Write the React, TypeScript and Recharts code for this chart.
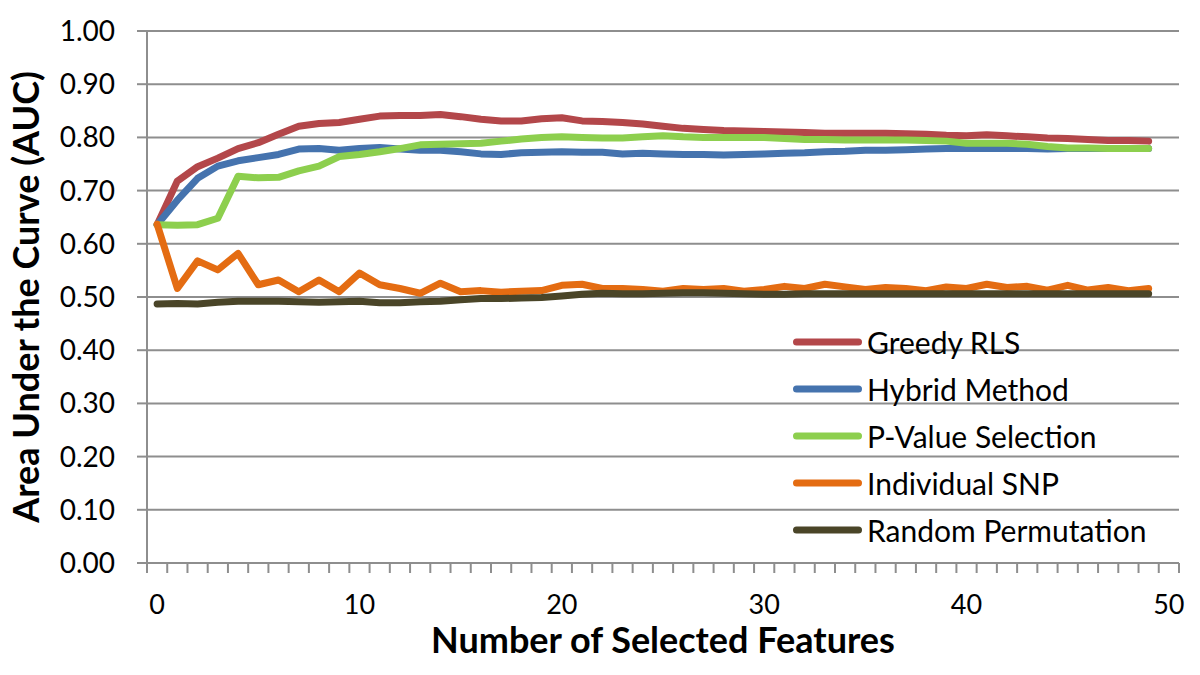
import { LineChart, Line, XAxis, YAxis, CartesianGrid, Legend, Label } from 'recharts';

// x categories (number of selected features)
const features = [
  0, 1, 2, 3, 4, 5, 6, 7, 8, 9,
  10, 11, 12, 13, 14, 15, 16, 17, 18, 19,
  20, 21, 22, 23, 24, 25, 26, 27, 28, 29,
  30, 31, 32, 33, 34, 35, 36, 37, 38, 39,
  40, 41, 42, 43, 44, 45, 46, 47, 48, 49,
];

const greedyRLS = [
  0.636, 0.718, 0.745, 0.761, 0.779, 0.790, 0.806, 0.821, 0.826, 0.828,
  0.834, 0.840, 0.841, 0.841, 0.843, 0.839, 0.834, 0.831, 0.831, 0.835,
  0.837, 0.831, 0.830, 0.828, 0.825, 0.821, 0.817, 0.815, 0.813, 0.812,
  0.811, 0.810, 0.809, 0.808, 0.808, 0.808, 0.808, 0.807, 0.806, 0.804,
  0.803, 0.805, 0.803, 0.801, 0.799, 0.798, 0.796, 0.794, 0.794, 0.793,
];

const hybridMethod = [
  0.636, 0.682, 0.723, 0.746, 0.756, 0.762, 0.768, 0.778, 0.779, 0.776,
  0.779, 0.781, 0.778, 0.776, 0.776, 0.773, 0.769, 0.768, 0.771, 0.772,
  0.773, 0.772, 0.772, 0.769, 0.770, 0.769, 0.768, 0.768, 0.767, 0.768,
  0.769, 0.770, 0.771, 0.773, 0.774, 0.776, 0.776, 0.777, 0.778, 0.779,
  0.779, 0.779, 0.779, 0.779, 0.778, 0.779, 0.779, 0.779, 0.779, 0.779,
];

const pValueSelection = [
  0.636, 0.635, 0.636, 0.648, 0.727, 0.724, 0.725, 0.737, 0.746, 0.764,
  0.768, 0.773, 0.779, 0.786, 0.787, 0.788, 0.789, 0.793, 0.797, 0.800,
  0.801, 0.800, 0.799, 0.799, 0.801, 0.803, 0.801, 0.800, 0.800, 0.800,
  0.800, 0.798, 0.796, 0.796, 0.795, 0.795, 0.795, 0.795, 0.794, 0.793,
  0.789, 0.789, 0.789, 0.787, 0.783, 0.780, 0.780, 0.779, 0.779, 0.779,
];

const individualSNP = [
  0.637, 0.516, 0.568, 0.551, 0.582, 0.523, 0.532, 0.510, 0.532, 0.510,
  0.545, 0.523, 0.516, 0.507, 0.526, 0.510, 0.512, 0.509, 0.511, 0.512,
  0.522, 0.524, 0.516, 0.516, 0.514, 0.511, 0.516, 0.514, 0.516, 0.511,
  0.514, 0.520, 0.516, 0.524, 0.519, 0.514, 0.518, 0.516, 0.512, 0.519,
  0.516, 0.524, 0.518, 0.520, 0.513, 0.522, 0.513, 0.518, 0.512, 0.516,
];

const randomPermutation = [
  0.487, 0.488, 0.487, 0.490, 0.492, 0.492, 0.492, 0.491, 0.490, 0.491,
  0.492, 0.489, 0.489, 0.491, 0.492, 0.495, 0.497, 0.497, 0.498, 0.499,
  0.502, 0.505, 0.507, 0.506, 0.506, 0.507, 0.508, 0.508, 0.507, 0.506,
  0.505, 0.505, 0.506, 0.506, 0.506, 0.506, 0.506, 0.506, 0.506, 0.506,
  0.506, 0.506, 0.506, 0.506, 0.506, 0.506, 0.506, 0.506, 0.506, 0.506,
];

const xLabels = [0, 10, 20, 30, 40, 50];
const yTicks = [0, 0.1, 0.2, 0.3, 0.4, 0.5, 0.6, 0.7, 0.8, 0.9, 1.0];

const series = [
  { key: 'greedy', name: 'Greedy RLS', color: '#B3474A' },
  { key: 'hybrid', name: 'Hybrid Method', color: '#4573AE' },
  { key: 'pvalue', name: 'P-Value Selection', color: '#8DCF4E' },
  { key: 'snp', name: 'Individual SNP', color: '#E46C12' },
  { key: 'random', name: 'Random Permutation', color: '#4A4528' },
];

const data = features.map((x, i) => ({
  x,
  greedy: greedyRLS[i],
  hybrid: hybridMethod[i],
  pvalue: pValueSelection[i],
  snp: individualSNP[i],
  random: randomPermutation[i],
}));

// Excel-style category axis: tick marks sit between categories, labels at centres
const boundaryTicks = [...features, 50].map((v) => v - 0.5).concat([50.5]);
const xTicks = [...boundaryTicks, ...xLabels].sort((a, b) => a - b);

const FONT = 'Lato, "Open Sans", sans-serif';
const AXIS = '#8E8E8E';

const XTick = (props: any) => {
  const { x, y, payload } = props;
  const v = payload.value;
  if (Number.isInteger(v)) {
    return (
      <text x={x} y={y + 41} textAnchor="middle" fontSize={27} fontFamily={FONT} fill="#000">
        {v}
      </text>
    );
  }
  return <line x1={x} x2={x} y1={y - 10} y2={y} stroke={AXIS} strokeWidth={2} />;
};

const LegendBox = () => (
  <div style={{ fontFamily: FONT, fontSize: 30, color: '#000' }}>
    {series.map((s) => (
      <div key={s.key} style={{ display: 'flex', alignItems: 'center', height: 47 }}>
        <svg width={75} height={14} style={{ display: 'block' }}>
          <line x1={6.5} x2={68.5} y1={7} y2={7} stroke={s.color} strokeWidth={7} strokeLinecap="round" />
        </svg>
        <span style={{ marginLeft: 2, whiteSpace: 'nowrap' }}>{s.name}</span>
      </div>
    ))}
  </div>
);

export default function App() {
  return (
    <div style={{ position: 'absolute', left: 0, top: 0, width: 1200, height: 675, background: '#fff' }}>
      <LineChart width={1200} height={675} data={data} margin={{ top: 31, right: 21, left: 0, bottom: 0 }}>
        <CartesianGrid horizontal vertical={false} stroke={AXIS} strokeWidth={2} />
        <XAxis
          dataKey="x"
          type="number"
          domain={[-0.5, 50.5]}
          ticks={xTicks}
          interval={0}
          height={112}
          tickSize={10}
          tickMargin={0}
          tickLine={false}
          axisLine={{ stroke: AXIS, strokeWidth: 2 }}
          tick={<XTick />}
        >
          <Label
            value="Number of Selected Features"
            position="insideBottom"
            offset={22}
            style={{ fontFamily: FONT, fontSize: 36, fontWeight: 700, fill: '#000' }}
          />
        </XAxis>
        <YAxis
          type="number"
          domain={[0, 1]}
          ticks={yTicks}
          interval={0}
          width={147}
          tickSize={10}
          tickMargin={22}
          tickFormatter={(v: number) => v.toFixed(2)}
          tickLine={{ stroke: AXIS, strokeWidth: 2 }}
          axisLine={{ stroke: AXIS, strokeWidth: 2 }}
          tick={{ fontFamily: FONT, fontSize: 28, fill: '#000' }}
        >
          <Label
            value="Area Under the Curve (AUC)"
            angle={-90}
            position="insideLeft"
            offset={26}
            style={{ fontFamily: FONT, fontSize: 36, fontWeight: 700, fill: '#000', textAnchor: 'middle' }}
          />
        </YAxis>
        <Legend
          layout="vertical"
          align="center"
          verticalAlign="middle"
          wrapperStyle={{ left: 790, top: 318, width: 400 }}
          content={() => <LegendBox />}
        />
        {series.map((s) => (
          <Line
            key={s.key}
            type="linear"
            dataKey={s.key}
            name={s.name}
            stroke={s.color}
            strokeWidth={7}
            strokeLinejoin="round"
            strokeLinecap="round"
            dot={false}
            activeDot={false}
            isAnimationActive={false}
          />
        ))}
      </LineChart>
    </div>
  );
}
